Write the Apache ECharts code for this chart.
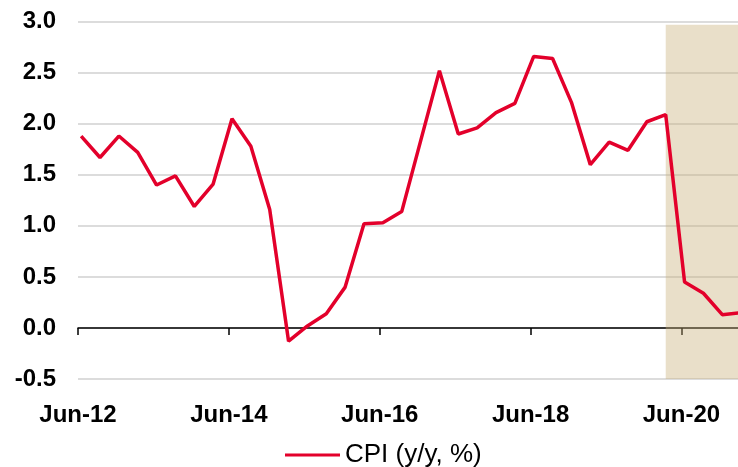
<!DOCTYPE html>
<html>
<head>
<meta charset="utf-8">
<script src="https://cdn.jsdelivr.net/npm/echarts@6/dist/echarts.min.js"></script>
<style>
html,body{margin:0;padding:0;background:#fff;}
#chart{width:738px;height:467px;}
</style>
</head>
<body>
<div id="chart"></div>
<script>
// Quarterly CPI (y/y, %)
var quarters = ['Jun-12','Sep-12','Dec-12','Mar-13','Jun-13','Sep-13','Dec-13','Mar-14',
  'Jun-14','Sep-14','Dec-14','Mar-15','Jun-15','Sep-15','Dec-15','Mar-16',
  'Jun-16','Sep-16','Dec-16','Mar-17','Jun-17','Sep-17','Dec-17','Mar-18',
  'Jun-18','Sep-18','Dec-18','Mar-19','Jun-19','Sep-19','Dec-19','Mar-20',
  'Jun-20','Sep-20','Dec-20','Mar-21'];
var cpi = [1.88,1.67,1.88,1.72,1.40,1.49,1.19,1.41,
  2.05,1.78,1.16,-0.13,0.02,0.14,0.40,1.02,
  1.03,1.14,1.83,2.52,1.90,1.96,2.11,2.20,
  2.66,2.64,2.21,1.60,1.82,1.74,2.02,2.09,
  0.45,0.34,0.13,0.15];
var xTickLabels = ['Jun-12','Jun-14','Jun-16','Jun-18','Jun-20'];
var shadeStart = 'Mar-20';
var seriesName = 'CPI (y/y, %)';

var monNames = ['Jan','Feb','Mar','Apr','May','Jun','Jul','Aug','Sep','Oct','Nov','Dec'];
function monthIndex(lbl){ // months since Jun-12, at mid-month
  var p = lbl.split('-');
  var m = monNames.indexOf(p[0]);
  var y = 2000 + parseInt(p[1],10);
  return (y - 2012) * 12 + (m - 5) + 0.5;
}
var data = quarters.map(function(q,i){ return [monthIndex(q), cpi[i]]; });

var chart = echarts.init(document.getElementById('chart'));
var font = '"Liberation Sans", Arial, sans-serif';
chart.setOption({
  animation:false,
  backgroundColor:'#fff',
  grid:{left:78, right:0, top:21.7, bottom:88, containLabel:false},
  xAxis:{
    type:'value', min:0, max:105, interval:24,
    axisLine:{show:true, onZero:true, lineStyle:{color:'#000', width:1.5}},
    axisTick:{show:true, length:7, inside:false, lineStyle:{color:'#000', width:1.5}},
    splitLine:{show:false},
    axisLabel:{
      margin:24, showMaxLabel:false, color:'#000', fontFamily:font, fontWeight:'bold', fontSize:24,
      formatter:function(v){ var k = Math.round(v/24); return (v % 24 === 0 && xTickLabels[k]) ? xTickLabels[k] : ''; }
    }
  },
  yAxis:{
    type:'value', min:-0.5, max:3.0, interval:0.5,
    axisLine:{show:false}, axisTick:{show:false},
    splitLine:{show:true, lineStyle:{color:'#dcdcdc', width:2}},
    axisLabel:{margin:22, color:'#000', fontFamily:font, fontWeight:'bold', fontSize:24,
      formatter:function(v){ return v.toFixed(1); }}
  },
  legend:{
    data:[{name:seriesName, icon:'rect'}],
    left:280, top:437, itemWidth:55, itemHeight:3, itemGap:10,
    textStyle:{color:'#000', fontFamily:font, fontSize:26}
  },
  series:[{
    name:seriesName, type:'line', data:data, symbol:'none', clip:true,
    lineStyle:{color:'#E3002B', width:3.5},
    itemStyle:{color:'#E3002B'},
    markArea:{
      silent:true,
      itemStyle:{color:'rgba(200,176,120,0.4)'},
      data:[[{xAxis:monthIndex(shadeStart), yAxis:-0.5},{xAxis:105, yAxis:2.97}]]
    }
  }]
});
</script>
</body>
</html>
